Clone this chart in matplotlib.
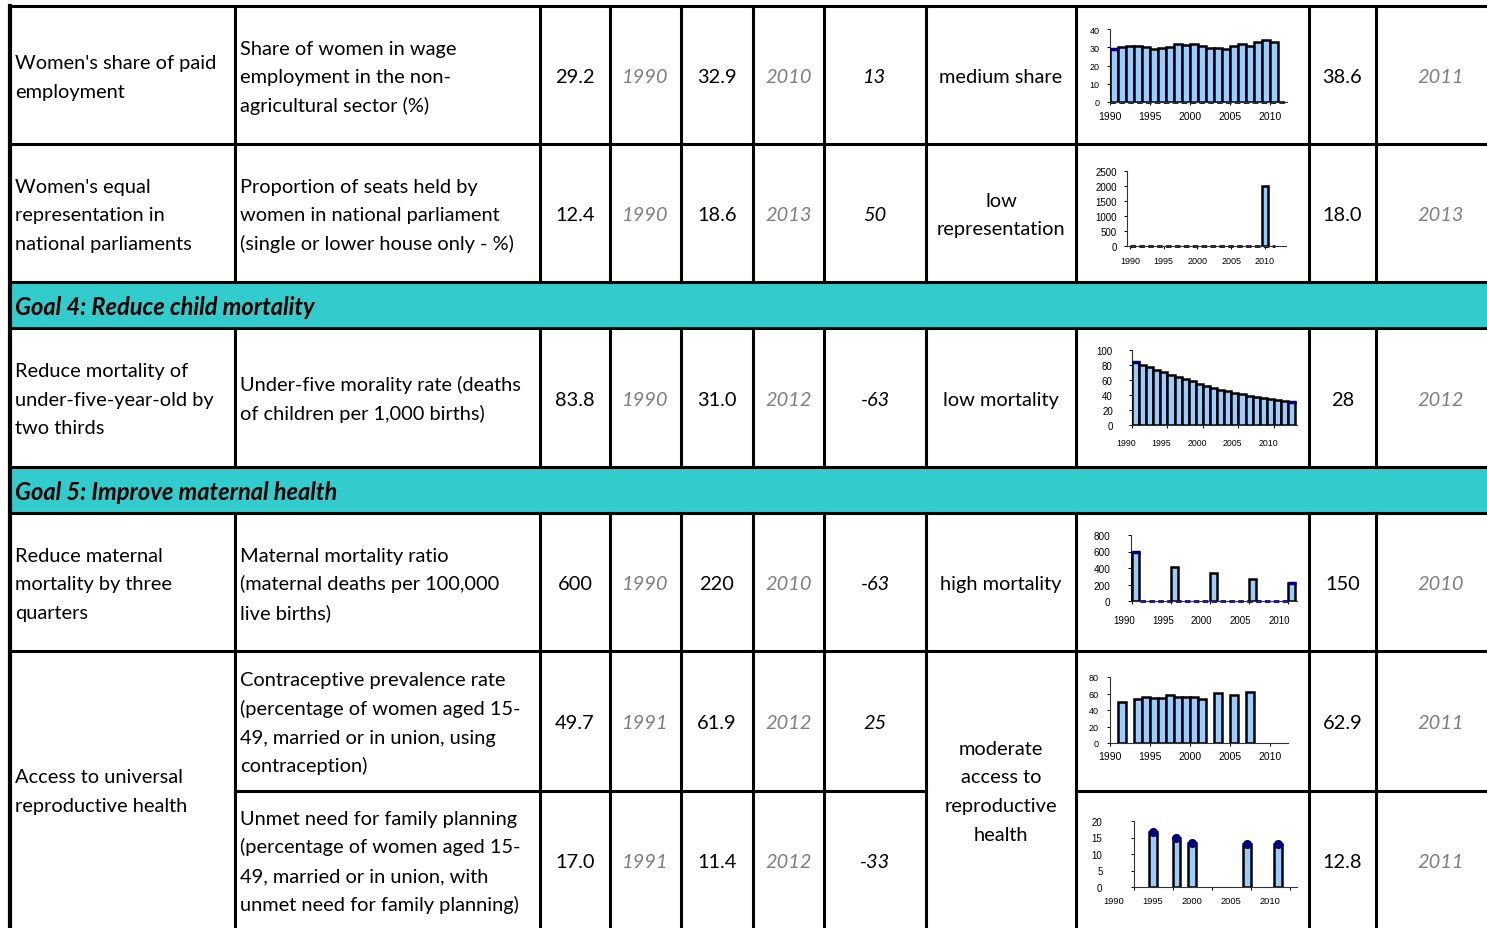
import numpy as np
import matplotlib.pyplot as plt
from matplotlib.transforms import ScaledTranslation

# ---- table data ----
targets = ["Women's share of paid\nemployment",
           "Women's equal\nrepresentation in\nnational parliaments",
           "Reduce mortality of\nunder-five-year-old by\ntwo thirds",
           "Reduce maternal\nmortality by three\nquarters",
           "Access to universal\nreproductive health"]
indicators = ["Share of women in wage\nemployment in the non-\nagricultural sector (%)",
              "Proportion of seats held by\nwomen in national parliament\n(single or lower house only - %)",
              "Under-five morality rate (deaths\nof children per 1,000 births)",
              "Maternal mortality ratio\n(maternal deaths per 100,000\nlive births)",
              "Contraceptive prevalence rate\n(percentage of women aged 15-\n49, married or in union, using\ncontraception)",
              "Unmet need for family planning\n(percentage of women aged 15-\n49, married or in union, with\nunmet need for family planning)"]
start_vals = ['29.2', '12.4', '83.8', '600', '49.7', '17.0']
start_years = ['1990', '1990', '1990', '1990', '1991', '1991']
end_vals = ['32.9', '18.6', '31.0', '220', '61.9', '11.4']
end_years = ['2010', '2013', '2012', '2010', '2012', '2012']
changes = ['13', '50', '-63', '-63', '25', '-33']
assessments = ['medium share', 'low\nrepresentation', 'low mortality',
               'high mortality', 'moderate\naccess to\nreproductive\nhealth']
latest_vals = ['38.6', '18.0', '28', '150', '62.9', '12.8']
latest_years = ['2011', '2013', '2012', '2010', '2011', '2011']
goals = ['Goal 4: Reduce child mortality', 'Goal 5: Improve maternal health']

# ---- mini chart data ----
emp_years = list(range(1990, 2011))
emp_vals = [29.2, 30.4, 30.7, 30.7, 30.4, 29.1, 29.8, 30.2, 31.6, 31.1, 32.0,
            30.9, 29.8, 29.8, 29.1, 30.5, 31.6, 30.9, 32.7, 33.8, 32.9]
parl_years = [2010]
parl_vals = [2000]
u5_years = list(range(1990, 2013))
u5_vals = [83.8, 80.6, 77.5, 73.9, 70.3, 66.7, 64.0, 60.8, 58.1, 55.0, 52.3, 49.5,
           47.3, 45.0, 42.8, 41.0, 39.2, 37.8, 36.0, 34.7, 33.3, 32.4, 31.0]
mmr_years = [1990, 1995, 2000, 2005, 2010]
mmr_vals = [600, 415, 340, 265, 220]
cpr_years = [1991, 1993, 1994, 1995, 1996, 1997, 1998, 1999, 2000, 2001, 2003, 2005, 2007]
cpr_vals = [49.7, 53.8, 55.8, 55.0, 55.0, 57.8, 56.2, 56.2, 55.4, 53.4, 61.0, 58.2, 61.9]
unmet_years = [1995, 1998, 2000, 2007, 2011]
unmet_vals = [16.8, 15.0, 13.4, 13.1, 12.9]
tick_labels = ['1990', '1995', '2000', '2005', '2010']

W, H = 1487, 929
fig = plt.figure(figsize=(W / 100, H / 100), dpi=100)
ax = fig.add_axes([0, 0, 1, 1])
ax.set_xlim(0, W)
ax.set_ylim(H, 0)
ax.axis('off')

FONT = 'Lato'
FS = 14.4
PITCH = 28.6
TEAL = '#33cccc'
GRAY = '#7f7f7f'
LW = 2.2


def cell_text(x, yc, text, ha='left', fs=FS, **kw):
    lines = text.split('\n')
    y0 = yc - (len(lines) - 1) * PITCH / 2
    for i, line in enumerate(lines):
        ax.text(x, y0 + i * PITCH + 0.36 * fs * 100 / 72, line, ha=ha, va='baseline',
                fontsize=fs, family=FONT, **kw)


# bands
for y0, y1 in [(283, 329), (468, 514)]:
    ax.fill_between([10, W], y0, y1, color=TEAL, lw=0, zorder=0)

# grid lines
for y in [7, 145, 283, 329, 468, 514, 652]:
    ax.plot([10, W], [y, y], color='black', lw=LW)
ax.plot([235, 926], [792, 792], color='black', lw=LW)
ax.plot([1076, W], [792, 792], color='black', lw=LW)
vx = [235, 540, 610, 681, 753, 824, 926, 1076, 1309, 1376]
for y0, y1 in [(7, 283), (329, 468), (514, H)]:
    for x in vx:
        ax.plot([x, x], [y0, y1], color='black', lw=LW)
ax.plot([10, 10], [7, H], color='black', lw=3)

# text
row_c = [76, 214, 398.5, 583, 722, 860.5]
merged_c = 790.5
col_c = [575, 645.5, 717, 788.5, 875, 1001, 1342.5, 1441]
for i in range(5):
    yc = row_c[i] if i < 4 else merged_c
    cell_text(15, yc, targets[i])
    cell_text(col_c[5], yc, assessments[i], ha='center')
for i in range(6):
    yc = row_c[i]
    cell_text(240, yc, indicators[i])
    cell_text(col_c[0], yc, start_vals[i], ha='center')
    cell_text(col_c[1], yc, start_years[i], ha='center', style='italic', color=GRAY)
    cell_text(col_c[2], yc, end_vals[i], ha='center')
    cell_text(col_c[3], yc, end_years[i], ha='center', style='italic', color=GRAY)
    cell_text(col_c[4], yc, changes[i], ha='center', style='italic')
    cell_text(col_c[6], yc, latest_vals[i], ha='center')
    cell_text(col_c[7], yc, latest_years[i], ha='center', style='italic', color=GRAY)
for yc, g in zip([306, 491], goals):
    cell_text(15, yc, g, fs=17, style='italic', weight='bold')


def mini(box, x0, ppy, ymax, ystep, ticks, xoff, xfs, yfs, xpad, ypad,
         years, vals, width=1.0, align='edge', dash=None, caps=None, dots=False):
    l, r, b, t = box
    m = fig.add_axes([l / W, 1 - b / H, (r - l) / W, (b - t) / H])
    m.patch.set_visible(False)
    m.set_xlim(x0, x0 + (r - l) / ppy)
    m.set_ylim(0, ymax)
    if dash:
        m.plot(dash, [0, 0], color='#000080', lw=2, ls=(0, (2, 1.2)), zorder=2, clip_on=False)
    m.bar(years, vals, width=width, align=align, color='#99ccff',
          edgecolor='black', lw=1.8, zorder=3)
    if caps:
        m.plot([years[k] + 0.5 for k in caps], [vals[k] for k in caps], ls='none',
               marker='_', ms=6, mew=2.5, color='#000080', zorder=4, clip_on=False)
    if dots:
        m.plot(years, vals, 'o', ms=5.5, color='#000080', zorder=4, clip_on=False)
    for s in ['top', 'right']:
        m.spines[s].set_visible(False)
    for s in ['left', 'bottom']:
        m.spines[s].set_linewidth(0.8)
        m.spines[s].set_color('#333333')
    m.set_yticks(np.arange(0, ymax + 1, ystep))
    m.set_xticks(ticks)
    m.set_xticklabels(tick_labels)
    m.tick_params(axis='x', length=2.2, width=0.7, pad=xpad, labelsize=xfs)
    m.tick_params(axis='y', length=2.2, width=0.7, pad=ypad, labelsize=yfs)
    for lab in m.get_xticklabels() + m.get_yticklabels():
        lab.set_family('Liberation Sans')
    for lab in m.get_xticklabels():
        lab.set_transform(lab.get_transform() + ScaledTranslation(xoff / 100, 0, fig.dpi_scale_trans))
    return m


yr5 = [1990, 1995, 2000, 2005, 2010]
mini((1110, 1287, 103, 30), 1990, 8.0, 40, 10, yr5, 0, 7.5, 6.5, 4.6, 5.4,
     emp_years, emp_vals, dash=[1990, 2012], caps=[0])
mini((1127, 1286, 247, 172), 1989.56, 6.75, 2500, 500, yr5, 0, 6.5, 7.0, 5.0, 5.2,
     parl_years, parl_vals, width=0.9, align='center', dash=[1990, 2011.5])
mini((1132, 1297, 426, 351), 1990, 7.1, 100, 20, yr5, -6, 6.3, 7.0, 7.4, 11.6,
     u5_years, u5_vals, caps=[0, -1])
mini((1131, 1297, 602, 536), 1989.9, 7.8, 800, 200, yr5, -8, 7.0, 7.2, 7.8, 12.5,
     mmr_years, mmr_vals, width=0.95, dash=[1991, 2010], caps=[0, -1])
mini((1110, 1288, 744, 678), 1990, 8.0, 80, 20, yr5, 0, 7.5, 6.5, 3.8, 6.0,
     cpr_years, cpr_vals)
mini((1134, 1297, 888, 822), 1992.56, 7.8, 20, 5, [1992.56 + 5 * k for k in range(5)], -20,
     6.7, 7.0, 4.4, 20.5, unmet_years, unmet_vals, align='center', dots=True)

fig.savefig('out.png', dpi=100)
